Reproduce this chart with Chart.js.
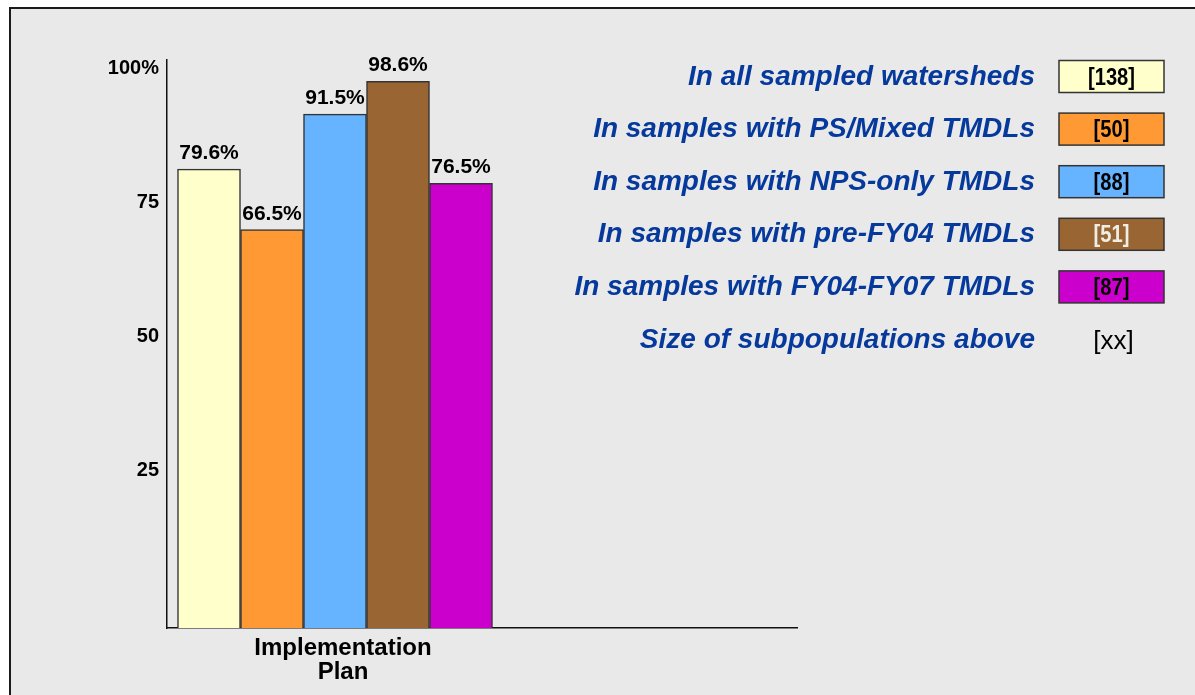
<!DOCTYPE html>
<html>
<head>
<meta charset="utf-8">
<script src="https://cdn.jsdelivr.net/npm/chart.js@4.4.0/dist/chart.umd.min.js"></script>
<style>
    html, body { margin: 0; padding: 0; background: #fff; overflow: hidden; }
    #wrap { position: absolute; left: 0; top: 0; width: 1195px; height: 695px; }
</style>
</head>
<body>
<div id="wrap"><canvas id="myChart" width="1195" height="695"></canvas></div>
<script>
// chart data
const categories = ['Implementation Plan'];
const seriesNames = [
    'In all sampled watersheds',
    'In samples with PS/Mixed TMDLs',
    'In samples with NPS-only TMDLs',
    'In samples with pre-FY04 TMDLs',
    'In samples with FY04-FY07 TMDLs'
];
const seriesValues = [79.6, 66.5, 91.5, 98.6, 76.5];
const sampleSizes = ['[138]', '[50]', '[88]', '[51]', '[87]'];
const tickValues = [100, 75, 50, 25];
const tickLabels = ['100%', '75', '50', '25'];
const sizeNote = 'Size of subpopulations above';
const sizeNoteTag = '[xx]';

const seriesColors = ['#FFFFCC', '#FF9933', '#66B3FF', '#996633', '#CC00CC'];
const sizeTextColors = ['#000', '#000', '#000', '#EEEEE6', '#000'];
const fontFamily = '"Liberation Sans", Arial, sans-serif';

Chart.defaults.font.family = fontFamily;

let datasets = [];
for (let i = 0; i < seriesNames.length; i++) {
    datasets.push({
        label: seriesNames[i],
        data: categories.map((c, j) => ({ x: j, y: seriesValues[i] })),
        backgroundColor: seriesColors[i],
        borderColor: '#333',
        borderWidth: 1.5,
        barThickness: 63,
        base: -19.7,
        yAxisID: 'y',
        xAxisID: 'x'
    });
}

// grey panel with a dark line on top and left, like the slide it came from
const panel = {
    id: 'panel',
    beforeDraw(chart) {
        const ctx = chart.ctx;
        ctx.save();
        ctx.fillStyle = '#fff';
        ctx.fillRect(0, 0, chart.width, chart.height);
        ctx.fillStyle = '#E9E9E9';
        ctx.fillRect(9, 7, chart.width, chart.height);
        ctx.strokeStyle = '#1a1a1a';
        ctx.lineWidth = 2;
        ctx.beginPath();
        ctx.moveTo(10, chart.height);
        ctx.lineTo(10, 8);
        ctx.lineTo(chart.width, 8);
        ctx.stroke();
        ctx.restore();
    }
};

const barLabels = {
    id: 'barLabels',
    afterDatasetsDraw(chart) {
        const ctx = chart.ctx;
        ctx.save();
        ctx.font = 'bold 21px ' + fontFamily;
        ctx.fillStyle = '#000';
        ctx.textAlign = 'center';
        ctx.textBaseline = 'alphabetic';
        chart.data.datasets.forEach((ds, i) => {
            chart.getDatasetMeta(i).data.forEach((bar) => {
                ctx.fillText(seriesValues[i].toFixed(1) + '%', bar.x, bar.y - 10);
            });
        });
        ctx.restore();
    }
};

// legend on the right: name, then a coloured box with the sample size
const sideLegend = {
    id: 'sideLegend',
    afterDraw(chart) {
        const ctx = chart.ctx;
        const textRight = 1035;
        const boxLeft = 1059;
        const boxW = 105;
        const boxH = 32;
        const firstCenter = 76.5;
        const gap = 52.6;
        ctx.save();
        for (let i = 0; i <= seriesNames.length; i++) {
            const cy = firstCenter + i * gap;
            const name = i < seriesNames.length ? seriesNames[i] : sizeNote;
            ctx.font = 'italic bold 28px ' + fontFamily;
            ctx.fillStyle = '#06399C';
            ctx.textAlign = 'right';
            ctx.textBaseline = 'alphabetic';
            ctx.fillText(name, textRight, cy + 8);

            if (i < seriesNames.length) {
                ctx.fillStyle = seriesColors[i];
                ctx.fillRect(boxLeft, cy - boxH / 2, boxW, boxH);
                ctx.strokeStyle = '#333';
                ctx.lineWidth = 1.5;
                ctx.strokeRect(boxLeft, cy - boxH / 2, boxW, boxH);
                ctx.save();
                ctx.translate(boxLeft + boxW / 2, cy + 8);
                ctx.scale(0.84, 1);
                ctx.font = 'bold 24px ' + fontFamily;
                ctx.fillStyle = sizeTextColors[i];
                ctx.textAlign = 'center';
                ctx.fillText(sampleSizes[i], 0, 0);
                ctx.restore();
            } else {
                ctx.font = '26px ' + fontFamily;
                ctx.fillStyle = '#000';
                ctx.textAlign = 'center';
                ctx.fillText(sizeNoteTag, boxLeft + boxW / 2 + 2, cy + 9);
            }
        }
        ctx.restore();
    }
};

const config = {
    type: 'bar',
    data: { datasets: datasets },
    options: {
        responsive: false,
        animation: false,
        layout: { padding: { left: 108, right: 398, top: 60, bottom: 0 } },
        plugins: {
            legend: { display: false },
            tooltip: { enabled: false }
        },
        scales: {
            x: {
                type: 'linear',
                offset: false,
                min: -0.5,
                max: 1.375,
                grid: { display: false, drawTicks: false },
                border: { display: true, color: '#111', width: 1.5 },
                afterBuildTicks: (scale) => {
                    scale.ticks = categories.map((c, j) => ({ value: j }));
                },
                afterFit: (scale) => { scale.height = 67; },
                ticks: {
                    autoSkip: false,
                    maxRotation: 0,
                    padding: 8,
                    labelOffset: 8,
                    color: '#000',
                    font: { size: 24, weight: 'bold', lineHeight: 1.0 },
                    callback: (value) => categories[value] ? categories[value].split(' ') : ''
                }
            },
            y: {
                type: 'linear',
                display: false,
                min: -19.7,
                max: 103.2
            },
            yTicks: {
                type: 'linear',
                position: 'left',
                min: -4.3,
                max: 101.5,
                grid: { display: false, drawTicks: false },
                border: { display: true, color: '#111', width: 1.5 },
                afterBuildTicks: (scale) => {
                    scale.ticks = tickValues.map(v => ({ value: v }));
                },
                afterFit: (scale) => { scale.width = 59; },
                ticks: {
                    padding: 8,
                    color: '#000',
                    font: { size: 20, weight: 'bold' },
                    callback: (value, index) => tickLabels[index]
                }
            }
        }
    },
    plugins: [panel, barLabels, sideLegend]
};

const myChart = new Chart(
    document.getElementById('myChart'),
    config
);
</script>
</body>
</html>
